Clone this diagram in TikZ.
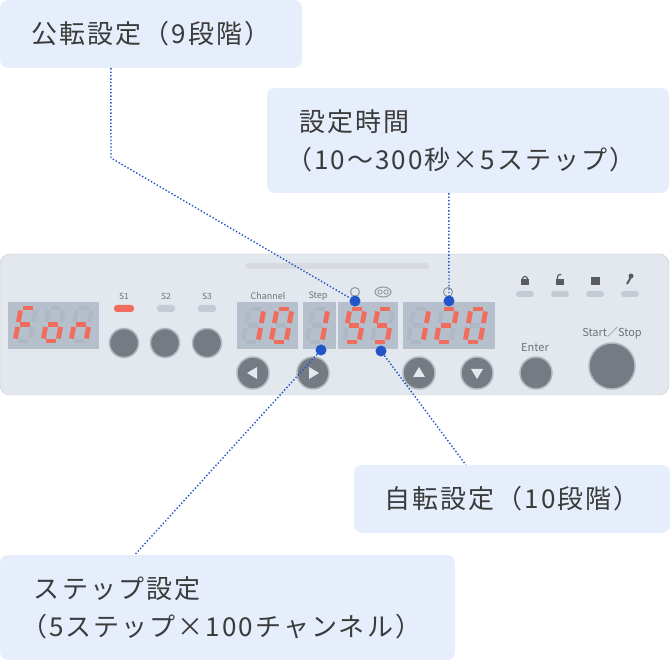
\documentclass[tikz,border=0pt]{standalone}
\usepackage{fontspec}
\setmainfont{Noto Sans CJK JP}
\newfontfamily\tagfont{Noto Sans CJK JP}[LetterSpace=8]
\usetikzlibrary{positioning}

\definecolor{tagfill}{HTML}{E6EEFC}
\definecolor{tagtext}{HTML}{3B3B3B}
\definecolor{leadblue}{HTML}{2155C8}
\definecolor{panelgray}{HTML}{E3E7EE}
\definecolor{dispgray}{HTML}{B6C0CD}
\definecolor{segdim}{HTML}{AEB8C5}
\definecolor{segred}{HTML}{F06C5C}
\definecolor{knobgray}{HTML}{767A83}
\definecolor{labelgray}{HTML}{6E737B}

% one 7-segment digit: x, y of its lower left corner, list of lit segments
\newcommand\segdigit[3]{%
  \begin{scope}[shift={(#1,#2)},xslant=0.18]
    \coordinate (bl) at (0,0);     \coordinate (br) at (15,0);
    \coordinate (ml) at (0,-16.5); \coordinate (mr) at (15,-16.5);
    \coordinate (tl) at (0,-33);   \coordinate (tr) at (15,-33);
    \foreach \u/\v in {tl/tr,tr/mr,mr/br,bl/br,ml/bl,tl/ml,ml/mr}
      \draw[segoff] (\u) -- (\v);
    \foreach \u/\v in #3
      \draw[segon] (\u) -- (\v);
  \end{scope}}
\def\glyphF{tl/tr,tl/ml,ml/bl,ml/mr}
\def\glyphO{ml/mr,mr/br,bl/br,ml/bl}
\def\glyphN{ml/mr,mr/br,ml/bl}
\def\glyphOne{tr/mr,mr/br}
\def\glyphTwo{tl/tr,tr/mr,ml/mr,ml/bl,bl/br}
\def\glyphFive{tl/tr,tl/ml,ml/mr,mr/br,bl/br}
\def\glyphNine{tl/tr,tr/mr,mr/br,bl/br,tl/ml,ml/mr}
\def\glyphZero{tl/tr,tr/mr,mr/br,bl/br,ml/bl,tl/ml}

\begin{document}
\begin{tikzpicture}[%
    x=1pt,
    y=-1pt,
    callout/.style={%
      fill=tagfill,
      rounded corners=8pt,
      text=tagtext,
      inner sep=0pt,
      font=\tagfont\fontsize{26}{38}\selectfont
    },
    leader/.style={leadblue, line width=1.4pt, dotted},
    hotspot/.style={circle, fill=leadblue, minimum size=11pt, inner sep=0pt},
    display/.style={fill=dispgray},
    segoff/.style={segdim, line width=4.5pt, shorten <=2.5pt, shorten >=2.5pt},
    segon/.style={segred, line width=4.8pt, shorten <=2.5pt, shorten >=2.5pt},
    knob/.style={circle, fill=knobgray, draw=knobgray!45!panelgray, line width=1.5pt, inner sep=0pt},
    led/.style={fill=#1, rounded corners=3pt},
    panellabel/.style={text=labelgray, inner sep=0pt, font=\fontsize{#1}{#1}\selectfont},
    icon/.style={fill=labelgray!80!black}
  ]
    \useasboundingbox (0,0) rectangle (670,660);

    % panel
    \draw[fill=panelgray, draw=panelgray!88!black, rounded corners=10pt] (0,254) rectangle (669,395);
    \draw[line width=6pt, line cap=round, draw=panelgray!88!gray] (248,266) -- (426,266);

    % displays
    \fill[display] (8,302) rectangle (99,349);
    \fill[display] (237,302) rectangle (298,349);
    \fill[display] (303,302) rectangle (336,349);
    \fill[display] (338,302) rectangle (398,349);
    \fill[display] (403,302) rectangle (495,349);

    \segdigit{15}{341}{\glyphF}
    \segdigit{43}{341}{\glyphO}
    \segdigit{71}{341}{\glyphN}
    \segdigit{243}{342}{\glyphOne}
    \segdigit{271}{342}{\glyphZero}
    \segdigit{307}{342}{\glyphOne}
    \segdigit{344}{342}{\glyphNine}
    \segdigit{372}{342}{\glyphFive}
    \segdigit{408}{342}{\glyphOne}
    \segdigit{436}{342}{\glyphTwo}
    \segdigit{465}{342}{\glyphZero}

    % labels on the panel
    \node[panellabel=8.5] (s1) at (124,296) {S1};
    \node[panellabel=8.5] (s2) at (166,296) {S2};
    \node[panellabel=8.5] (s3) at (207,296) {S3};
    \node[panellabel=9] (chan) at (268,296) {Channel};
    \node[panellabel=9] (stp) at (318,296) {Step};
    \node[panellabel=11] (ent) at (535,348) {Enter};
    \node[panellabel=11] (ss) at (612,333) {Start／Stop};

    % small marks above the displays
    \draw[labelgray!70!panelgray, line width=1pt] (355,292) circle (4.5pt);
    \draw[labelgray!70!panelgray, line width=1pt] (383,292) ellipse (8pt and 5pt);
    \draw[labelgray!70!panelgray, line width=0.8pt] (380,292) circle (2.2pt) (386,292) circle (2.2pt);
    \draw[labelgray!70!panelgray, line width=1pt] (448,292) circle (4.5pt);

    % leds
    \fill[led=segred] (114,305) rectangle (134,312);
    \fill[led=segdim!60!panelgray] (157,305) rectangle (175,312);
    \fill[led=segdim!60!panelgray] (198,305) rectangle (216,312);
    \foreach \x in {525,560,595,630}
      \fill[led=segdim!60!panelgray] (\x-9,291) rectangle (\x+9,297);

    % icons
    \fill[icon] (521,279) rectangle (529,285);
    \draw[labelgray!80!black, line width=1.2pt] (522.5,279) arc (180:0:2.5pt);
    \fill[icon] (556,279) rectangle (564,285);
    \draw[labelgray!80!black, line width=1.2pt] (557.5,279) -- (557.5,277) arc (180:60:2.5pt);
    \fill[icon] (591,277) rectangle (600,285);
    \fill[icon] (631,276) circle (2.5pt);
    \draw[labelgray!80!black, line width=2pt] (631,277) -- (627,284);

    % buttons
    \node[knob, minimum size=29pt] (b1) at (124,343) {};
    \node[knob, minimum size=29pt] (b2) at (165,343) {};
    \node[knob, minimum size=29pt] (b3) at (207,343) {};
    \node[knob, minimum size=32pt] (bleft) at (253,373) {};
    \node[knob, minimum size=32pt] (bright) at (313,373) {};
    \node[knob, minimum size=32pt] (bup) at (419,373) {};
    \node[knob, minimum size=32pt] (bdown) at (477,373) {};
    \node[knob, minimum size=32pt] (benter) at (536,373) {};
    \node[knob, minimum size=46pt] (bstart) at (612,366) {};

    \fill[panelgray] (247,373) -- (257,367) -- (257,379) -- cycle;
    \fill[panelgray] (319,373) -- (309,367) -- (309,379) -- cycle;
    \fill[panelgray] (419,367) -- (413,377) -- (425,377) -- cycle;
    \fill[panelgray] (477,379) -- (471,369) -- (483,369) -- cycle;

    % callouts
    \node[callout, minimum width=302pt, minimum height=68pt] (revtag) at (151,34) {公転設定（9段階）};
    \node[callout, text width=338pt, inner xsep=32pt, minimum height=105pt, align=left] (timetag) at (468,140.5)
      {設定時間\\\hspace*{-0.5em}（10〜300秒×5ステップ）};
    \node[callout, minimum width=316pt, minimum height=68pt] (rottag) at (512,499) {自転設定（10段階）};
    \node[callout, text width=387pt, inner xsep=34pt, minimum height=105pt, align=left] (steptag) at (227.5,607.5)
      {ステップ設定\\\hspace*{-0.5em}（5ステップ×100チャンネル）};

    % hotspots and leaders
    \node[hotspot] (revdot) at (355,301) {};
    \node[hotspot] (timedot) at (449,301) {};
    \node[hotspot] (rotdot) at (381,351) {};
    \node[hotspot] (stepdot) at (321,350) {};
    \coordinate (revbend) at (111,158);

    \draw[leader] ([xshift=111pt]revtag.south west) -- (revbend) -- (revdot);
    \draw[leader] ([xshift=182pt]timetag.south west) -- (timedot);
    \draw[leader] (rotdot) -- ([xshift=112pt]rottag.north west);
    \draw[leader] (stepdot) -- ([xshift=135pt]steptag.north west);
  \end{tikzpicture}
\end{document}
